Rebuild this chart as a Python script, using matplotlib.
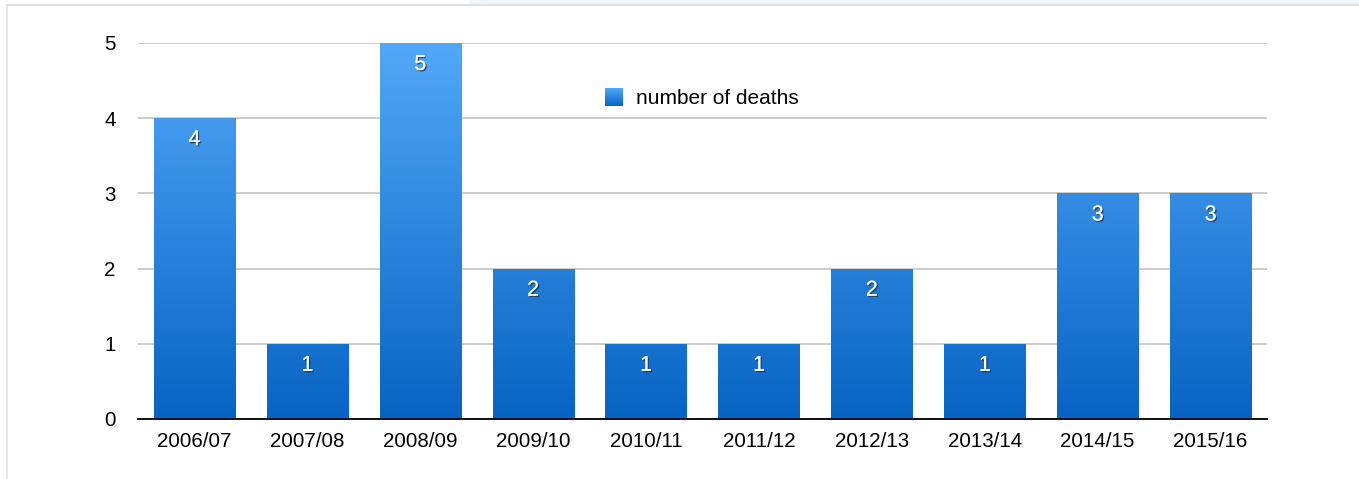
import numpy as np
import matplotlib
matplotlib.use("Agg")
import matplotlib.pyplot as plt
from matplotlib.colors import LinearSegmentedColormap
from matplotlib import patheffects as pe
from matplotlib.lines import Line2D
from matplotlib.patches import Rectangle

plt.rcParams['font.family'] = ['Liberation Sans', 'DejaVu Sans']

seasons = ["2006/07", "2007/08", "2008/09", "2009/10", "2010/11",
           "2011/12", "2012/13", "2013/14", "2014/15", "2015/16"]
deaths = [4, 1, 5, 2, 1, 1, 2, 1, 3, 3]
series_name = "number of deaths"
y_ticks = [0, 1, 2, 3, 4, 5]

W, H = 1359, 479
fig = plt.figure(figsize=(W / 100, H / 100), dpi=100)

# faint page frame
fig.patches.append(Rectangle((469 / W, 1 - 4 / H), 1 - 469 / W, 4 / H,
                             transform=fig.transFigure, color="#EEF6FC", zorder=0))
fig.lines.append(Line2D([7 / W, 1], [1 - 5 / H, 1 - 5 / H], transform=fig.transFigure,
                        color="#DADADA", lw=1.2))
fig.lines.append(Line2D([7 / W, 7 / W], [0, 1 - 5 / H], transform=fig.transFigure,
                        color="#E2E2E2", lw=1.2))

ax = fig.add_axes([138 / W, 1 - 419 / H, (1267 - 138) / W, (419 - 43) / H])

cmap = LinearSegmentedColormap.from_list("g", ["#0863C3", "#52A8F8"])
grad = np.linspace(0, 1, 256).reshape(-1, 1)
ymax = 5

x = np.arange(len(seasons))
bars = ax.bar(x, deaths, width=0.72, color="none", edgecolor="none", zorder=2)
for b, v in zip(bars, deaths):
    x0 = b.get_x()
    x1 = x0 + b.get_width()
    im = ax.imshow(grad, extent=[x0, x1, 0, ymax], origin="lower", aspect="auto",
                   cmap=cmap, zorder=2, interpolation="bilinear")
    im.set_clip_path(b)
    ax.annotate(str(v), (b.get_x() + b.get_width() / 2, v), xytext=(0, -15.5),
                textcoords="offset points", ha="center", va="center",
                fontsize=15.5, color="white", zorder=4,
                path_effects=[pe.withSimplePatchShadow(offset=(1, -1), shadow_rgbFace="#1a2a40", alpha=0.7),
                              pe.Normal()])

ax.set_xlim(-0.5, len(seasons) - 0.5)
ax.set_ylim(0, ymax)
ax.set_yticks(y_ticks)
ax.set_xticks(x)
ax.set_xticklabels(seasons)
ax.tick_params(axis="both", length=0, labelsize=14.8, colors="black")
ax.tick_params(axis="x", pad=9.5)
ax.tick_params(axis="y", pad=16)
ax.yaxis.grid(True, color="#C8C8C8", lw=1.3)
ax.set_axisbelow(True)
for s in ["top", "right", "left"]:
    ax.spines[s].set_visible(False)
ax.spines["bottom"].set_color("black")
ax.spines["bottom"].set_linewidth(1.3)
ax.spines["bottom"].set_zorder(5)

# legend
lax = fig.add_axes([605 / W, 1 - 106 / H, 18 / W, 18 / H])
lax.imshow(grad, extent=[0, 1, 0, 1], origin="lower", aspect="auto", cmap=cmap)
lax.axis("off")
fig.text(636 / W, 1 - 98 / H, series_name, ha="left", va="center", fontsize=15)

fig.savefig("out.png", dpi=100)
